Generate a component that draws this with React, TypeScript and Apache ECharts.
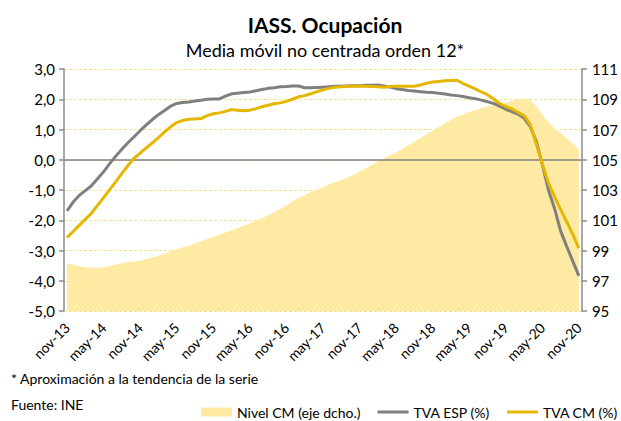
import React, { useEffect, useRef } from "react";
import * as echarts from "echarts";

const monthNames = ["ene", "feb", "mar", "abr", "may", "jun", "jul", "ago", "sep", "oct", "nov", "dic"];
const categories: string[] = [];
for (let k = 0; k < 85; k++) {
  const m = (10 + k) % 12;
  const y = 13 + Math.floor((10 + k) / 12);
  categories.push(`${monthNames[m]}-${y}`);
}

// TVA ESP (%) — left axis
const tvaEsp = [
  -1.69, -1.40, -1.18, -1.02, -0.86, -0.63, -0.40, -0.13, 0.12, 0.35,
  0.56, 0.76, 0.96, 1.15, 1.33, 1.49, 1.63, 1.77, 1.86, 1.89,
  1.91, 1.94, 1.97, 2.00, 2.01, 2.01, 2.10, 2.18, 2.20, 2.22,
  2.24, 2.28, 2.32, 2.36, 2.38, 2.41, 2.42, 2.44, 2.44, 2.38,
  2.38, 2.39, 2.40, 2.41, 2.43, 2.43, 2.44, 2.45, 2.45, 2.46,
  2.46, 2.47, 2.44, 2.40, 2.35, 2.32, 2.29, 2.27, 2.25, 2.23,
  2.22, 2.20, 2.17, 2.14, 2.12, 2.09, 2.05, 2.02, 1.97, 1.92,
  1.86, 1.77, 1.67, 1.59, 1.51, 1.38, 1.10, 0.62, -0.15, -1.00,
  -1.60, -2.35, -2.86, -3.35, -3.84,
];

// TVA CM (%) — left axis
const tvaCm = [
  -2.57, -2.37, -2.17, -1.97, -1.77, -1.51, -1.25, -0.99, -0.72, -0.45,
  -0.19, 0.05, 0.22, 0.39, 0.56, 0.73, 0.92, 1.09, 1.23, 1.30,
  1.34, 1.35, 1.36, 1.46, 1.52, 1.55, 1.60, 1.66, 1.64, 1.62,
  1.64, 1.69, 1.75, 1.80, 1.85, 1.88, 1.93, 2.00, 2.08, 2.12,
  2.18, 2.25, 2.31, 2.36, 2.40, 2.41, 2.43, 2.43, 2.43, 2.43,
  2.42, 2.41, 2.40, 2.42, 2.43, 2.43, 2.43, 2.43, 2.47, 2.53,
  2.57, 2.59, 2.61, 2.62, 2.63, 2.52, 2.43, 2.34, 2.24, 2.15,
  2.01, 1.86, 1.76, 1.68, 1.57, 1.46, 1.18, 0.52, -0.13, -0.76,
  -1.22, -1.64, -2.05, -2.47, -2.92,
];

// Nivel CM — right axis
const nivelCm = [
  98.14, 98.05, 97.96, 97.90, 97.86, 97.86, 97.88, 97.97, 98.06, 98.15,
  98.24, 98.28, 98.32, 98.43, 98.54, 98.66, 98.78, 98.95, 99.10, 99.22,
  99.31, 99.47, 99.62, 99.76, 99.90, 100.04, 100.19, 100.34, 100.49, 100.64,
  100.80, 100.96, 101.14, 101.33, 101.53, 101.74, 101.99, 102.24, 102.49, 102.67,
  102.85, 103.02, 103.19, 103.36, 103.52, 103.66, 103.81, 103.99, 104.22, 104.44,
  104.66, 104.88, 105.09, 105.30, 105.50, 105.73, 105.96, 106.19, 106.43, 106.68,
  106.92, 107.16, 107.40, 107.63, 107.86, 108.00, 108.15, 108.28, 108.41, 108.52,
  108.61, 108.70, 108.78, 108.88, 108.98, 109.07, 108.92, 108.55, 108.00, 107.50,
  107.05, 106.75, 106.42, 106.05, 105.69,
];

const RIGHT_BASE = 95; // bottom of the right axis (its ticks run 95, 97, ... 111)

const FONT = "Lato";
// thin horizontal bar inside a 31x9 box (zero-length corner segments keep the box size)
const LINE_ICON = "path://M0,0L0,0M0,3L31,3L31,6L0,6ZM31,9L31,9";

export default function App() {
  const ref = useRef<HTMLDivElement>(null);
  useEffect(() => {
    if (!ref.current) return;
    const chart = echarts.init(ref.current, undefined, { renderer: "svg" });
    const axisGray = "#8c8c8c";
    chart.setOption({
      animation: false,
      backgroundColor: "#ffffff",
      textStyle: { fontFamily: FONT, color: "#000" },
      title: [
        {
          text: "IASS. Ocupación",
          left: 320,
          top: 9,
          textAlign: "center",
          textStyle: { fontFamily: FONT, fontSize: 21, fontWeight: "bold", color: "#000" },
        },
        {
          text: "Media móvil no centrada orden 12*",
          left: 320,
          top: 36,
          textAlign: "center",
          textStyle: { fontFamily: FONT, fontSize: 18, fontWeight: "normal", color: "#000" },
        },
      ],
      grid: { left: 64, right: 35, top: 69, bottom: 110, containLabel: false },
      xAxis: {
        type: "category",
        data: categories,
        boundaryGap: true,
        axisLine: { show: false },
        axisTick: { show: false },
        splitLine: { show: false },
        axisLabel: {
          interval: 5,
          rotate: 45,
          fontSize: 14,
          fontFamily: FONT,
          color: "#000",
          margin: 14,
        },
      },
      yAxis: [
        {
          type: "value",
          min: -5,
          max: 3,
          interval: 1,
          axisLine: { show: true, lineStyle: { color: axisGray, width: 1.5 } },
          axisTick: { show: true, length: 5, lineStyle: { color: axisGray, width: 1.5 } },
          axisLabel: {
            fontSize: 15,
            fontFamily: FONT,
            color: "#000",
            margin: 9,
            formatter: (v: number) => v.toFixed(1).replace(".", ","),
          },
          splitLine: { show: true, lineStyle: { color: "#FFE08A", type: [3, 2], width: 1 } },
        },
        {
          type: "value",
          position: "right",
          min: 0,
          max: 16,
          interval: 2,
          axisLine: { show: true, lineStyle: { color: axisGray, width: 1.5 } },
          axisTick: { show: true, length: 5, lineStyle: { color: axisGray, width: 1.5 } },
          axisLabel: {
            fontSize: 15,
            fontFamily: FONT,
            color: "#000",
            margin: 10,
            formatter: (v: number) => String(v + RIGHT_BASE),
          },
          splitLine: { show: false },
        },
      ],
      legend: {
        left: 201,
        top: 405,
        width: 420,
        padding: 0,
        itemWidth: 31,
        itemHeight: 9,
        itemGap: 17,
        textStyle: { fontFamily: FONT, fontSize: 14, color: "#000" },
        data: [
          { name: "Nivel CM (eje dcho.)", icon: "rect" },
          { name: "TVA ESP (%)", icon: LINE_ICON },
          { name: "TVA CM (%)", icon: LINE_ICON },
        ],
      },
      graphic: [
        {
          type: "text",
          left: 11,
          top: 371,
          style: { text: "* Aproximación a la tendencia de la serie", fontFamily: FONT, fontSize: 14, fill: "#000" },
        },
        {
          type: "text",
          left: 11,
          top: 397,
          style: { text: "Fuente: INE", fontFamily: FONT, fontSize: 14, fill: "#000" },
        },
      ],
      series: [
        {
          name: "Nivel CM (eje dcho.)",
          type: "line",
          yAxisIndex: 1,
          data: nivelCm.map((v) => v - RIGHT_BASE),
          symbol: "none",
          color: "#FFEAA3",
          lineStyle: { width: 0, color: "#FFEAA3" },
          itemStyle: { color: "#FFEAA3" },
          areaStyle: { color: "#FFEAA3", opacity: 1 },
          z: 1,
        },
        {
          name: "TVA ESP (%)",
          type: "line",
          yAxisIndex: 0,
          data: tvaEsp,
          symbol: "none",
          color: "#7f7f7f",
          itemStyle: { color: "#7f7f7f" },
          lineStyle: { width: 3, color: "#7f7f7f" },
          z: 3,
          markLine: {
            silent: true,
            symbol: ["none", "none"],
            label: { show: false },
            lineStyle: { color: "#808080", width: 1.5, type: "solid" },
            data: [{ yAxis: 0 }],
            z: 2,
          },
        },
        {
          name: "TVA CM (%)",
          type: "line",
          yAxisIndex: 0,
          data: tvaCm,
          symbol: "none",
          color: "#E5B700",
          itemStyle: { color: "#E5B700" },
          lineStyle: { width: 3, color: "#E5B700" },
          z: 4,
        },
      ],
    });
    return () => chart.dispose();
  }, []);
  return (
    <div
      ref={ref}
      style={{ position: "fixed", left: 0, top: 0, width: 621, height: 421, background: "#fff" }}
    />
  );
}
